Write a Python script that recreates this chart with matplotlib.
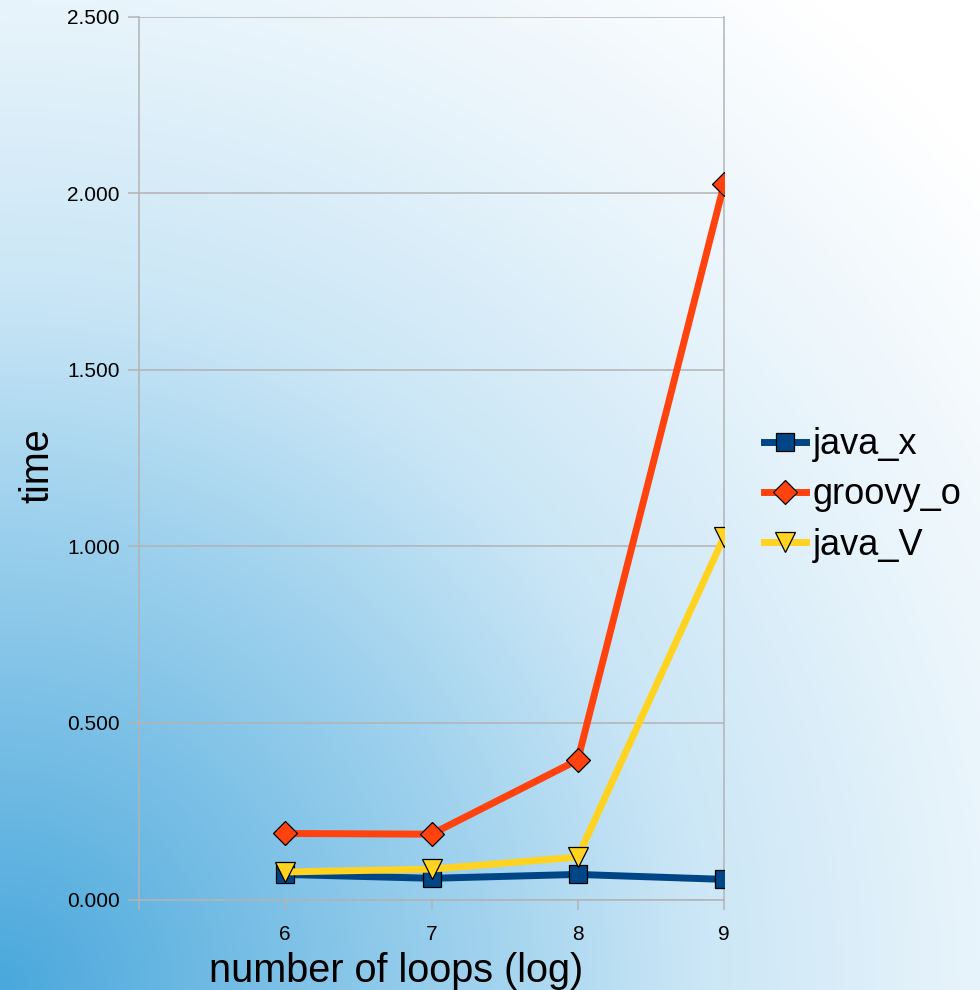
import numpy as np
import matplotlib
matplotlib.use("Agg")
import matplotlib.pyplot as plt
from matplotlib.colors import LinearSegmentedColormap
from matplotlib.ticker import FixedLocator, FuncFormatter

plt.rcParams['font.family'] = ['Liberation Sans', 'DejaVu Sans']

# Data
loops = [6, 7, 8, 9]
java_x = [0.071, 0.060, 0.071, 0.057]
groovy_o = [0.187, 0.185, 0.395, 2.025]
java_V = [0.078, 0.086, 0.120, 1.027]
series_names = ["java_x", "groovy_o", "java_V"]

W, H = 980, 990
fig = plt.figure(figsize=(W / 100, H / 100), dpi=100)

# Background: radial blue-to-white wash from the lower-left corner
bg = fig.add_axes([0, 0, 1, 1], zorder=-10)
xx, yy = np.meshgrid(np.linspace(0, 1, 400), np.linspace(0, 1, 400))
d = np.sqrt(xx ** 2 + yy ** 2)
cmap = LinearSegmentedColormap.from_list(
    "wash",
    [(0.0, "#4aa8dc"), (0.5 / 1.3, "#a2d3ee"), (0.707 / 1.3, "#cae6f6"),
     (1.0 / 1.3, "#e8f4fb"), (1.0, "#ffffff")])
bg.imshow(np.clip(d / 1.3, 0, 1), cmap=cmap, origin="lower",
          extent=[0, 1, 0, 1], aspect="auto", interpolation="bicubic")
bg.set_axis_off()

ax = fig.add_axes([139 / W, 1 - 899.5 / H, (724 - 139) / W, (899.5 - 16.7) / H])
ax.set_facecolor("none")

grid_c = "#b3b3b3"
ax.plot(loops, java_x, color="#004586", lw=5, marker="s", ms=13,
        mfc="#004586", mec="black", mew=0.9, label=series_names[0], zorder=5)
ax.plot(loops, groovy_o, color="#ff420e", lw=5, marker="D", ms=12.5,
        mfc="#ff420e", mec="black", mew=0.9, label=series_names[1], zorder=4)
ax.plot(loops, java_V, color="#ffd320", lw=5, marker="v", ms=15,
        mfc="#ffd320", mec="black", mew=0.9, label=series_names[2], zorder=6)

ax.set_xlim(5, 9)
ax.set_ylim(0, 2.5)
ax.xaxis.set_major_locator(FixedLocator([5, 6, 7, 8, 9]))
ax.xaxis.set_major_formatter(FuncFormatter(lambda v, p: "" if v == 5 else f"{v:.0f}"))
ax.set_yticks(np.arange(0, 2.51, 0.5))
ax.yaxis.set_major_formatter(FuncFormatter(lambda v, p: f"{v:.3f}"))

ax.yaxis.grid(True, color=grid_c, lw=1.1)
ax.set_axisbelow(True)
for s in ("left", "bottom", "right"):
    ax.spines[s].set_color(grid_c)
    ax.spines[s].set_linewidth(1.1)
ax.spines["top"].set_visible(False)

ax.tick_params(axis="y", direction="out", length=8, width=1.1, color=grid_c,
               labelsize=15, pad=6)
ax.tick_params(axis="x", direction="out", length=7, width=1.1, color=grid_c,
               labelsize=15, pad=11)

ax.set_xlabel("number of loops (log)", fontsize=28.5)
ax.xaxis.set_label_coords((396 - 139) / (724 - 139), -0.059)
ax.set_ylabel("time", fontsize=28.5)
ax.yaxis.set_label_coords(-0.141, 0.492)

leg = ax.legend(loc="center left", bbox_to_anchor=(764 / W, 1 - 495 / H),
                bbox_transform=fig.transFigure, frameon=False, fontsize=26,
                handlelength=1.15, handletextpad=0.2, labelspacing=0.42,
                borderpad=0, borderaxespad=0)

fig.savefig("out.png", dpi=100)
